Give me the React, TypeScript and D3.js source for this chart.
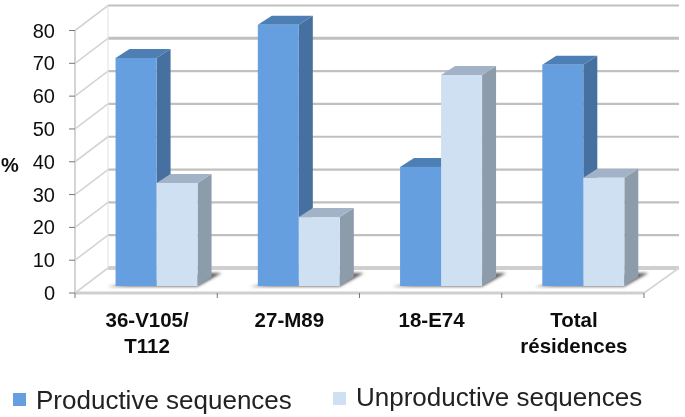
import React from 'react';
import * as d3 from 'd3';

const categories = ['36-V105/|T112', '27-M89', '18-E74', 'Total|résidences'];
const productive = [69.5, 79.6, 36.3, 67.4];
const unproductive = [31.4, 21, 64.3, 33];
const seriesNames = ['Productive sequences', 'Unproductive sequences'];
const yTicks = [0, 10, 20, 30, 40, 50, 60, 70, 80];

const width = 685;
const height = 417;
const font = '"Liberation Sans", Arial, sans-serif';

// 3D box offsets
const wallX = 33;
const wallY = 25;
const barShift = 7 / 25; // bars stand a bit behind the front edge
const barNudge = 1.2;
const barDX = 14;
const barDY = 9;

const x = d3.scaleBand().domain(categories).range([75, 644]);
const inner = d3.scaleBand().domain(['a', 'b']).range([0, 82]);
const y = d3.scaleLinear().domain([0, 80]).range([293, 30.5]);

const colors = [
  { front: '#659fdf', side: '#44709f', top: '#4d7fb4' },
  { front: '#cfe0f2', side: '#8d9cab', top: '#a3b3c7' },
];

const pts = (p: number[][]) => p.map(d => d.join(',')).join(' ');

export default function App() {
  const left = x.range()[0];
  const right = x.range()[1];
  const y0 = y(0);

  const groupX = (cat: string) => x(cat)! + (x.bandwidth() - 82) / 2 + wallX * barShift + barNudge;

  const bar = (cat: string, value: number, s: number) => {
    const bw = inner.bandwidth();
    const x0 = groupX(cat) + inner(s === 0 ? 'a' : 'b')!;
    const base = y(0) - wallY * barShift;
    const top = y(value) - wallY * barShift;
    const c = colors[s];
    return (
      <g key={cat + s}>
        <polygon points={pts([[x0 + bw, top], [x0 + bw + barDX, top - barDY], [x0 + bw + barDX, base - barDY], [x0 + bw, base]])} fill={c.side} />
        <polygon points={pts([[x0, top], [x0 + barDX, top - barDY], [x0 + bw + barDX, top - barDY], [x0 + bw, top]])} fill={c.top} />
        <rect x={x0} y={top} width={bw} height={base - top} fill={c.front} />
      </g>
    );
  };

  return (
    <svg width={width} height={height} style={{ position: 'absolute', left: 0, top: 0, background: '#fff' }}>
      <defs>
        <filter id="soft" x="-5%" y="-5%" width="110%" height="110%">
          <feGaussianBlur stdDeviation="0.7" />
        </filter>
        <filter id="shadow" x="-20%" y="-50%" width="140%" height="200%">
          <feGaussianBlur stdDeviation="1.5" />
        </filter>
      </defs>

      <g filter="url(#soft)">
        {/* gridlines on the side and back walls */}
        {yTicks.map(t => (
          <g key={t} stroke={t === 0 ? '#cfcfcf' : '#c0c0c0'} fill="none">
            <line x1={left} x2={left + wallX} y1={y(t)} y2={y(t) - wallY} strokeWidth={1.6} stroke="#d4d4d4" />
            <line x1={left + wallX} x2={right + wallX + 2} y1={y(t) - wallY} y2={y(t) - wallY} strokeWidth={t === 0 ? 4 : t === 80 ? 2 : t === 70 ? 3 : 2.2} />
          </g>
        ))}
        <line x1={left} x2={left} y1={y(80)} y2={y0} stroke="#d4d4d4" strokeWidth={2} />
        <line x1={left + wallX} x2={left + wallX} y1={y(80) - wallY} y2={y0 - wallY} stroke="#e2e2e2" strokeWidth={1} />
        {/* floor */}
        <line x1={left} x2={right} y1={y0} y2={y0} stroke="#cfcfcf" strokeWidth={3} />
        <line x1={right} x2={right + wallX + 2} y1={y0} y2={y0 - wallY} stroke="#d4d4d4" strokeWidth={1.6} />

        {/* axis ticks */}
        {yTicks.map(t => (
          <line key={t} x1={left - 6} x2={left} y1={y(t)} y2={y(t)} stroke="#777" strokeWidth={1} />
        ))}
        {[...categories.map(c => x(c)!), right].map(v => (
          <line key={v} x1={v} x2={v} y1={y0} y2={y0 + 5} stroke="#777" strokeWidth={1} />
        ))}

        {/* floor shadows */}
        {categories.map(c => {
          const x0 = groupX(c);
          const base = y0 - wallY * barShift;
          return (
            <polygon
              key={c}
              filter="url(#shadow)"
              fill="#5e5e5e"
              points={pts([[x0 - 8, base + 0.5], [x0 + 82, base + 0.5], [x0 + 82 + 24, base - 13], [x0 + 82 + 8, base - 13]])}
            />
          );
        })}

        {categories.map((c, i) => (
          <g key={c}>
            {bar(c, productive[i], 0)}
            {bar(c, unproductive[i], 1)}
          </g>
        ))}

        {/* y labels */}
        {yTicks.map(t => (
          <text key={t} x={55} y={y(t) + 7} textAnchor="end" fontFamily={font} fontSize={20} fill="#111">
            {t}
          </text>
        ))}
        <text x={1} y={172} fontFamily={font} fontSize={20} fontWeight="bold" fill="#111">%</text>

        {/* category labels */}
        {categories.map(c => {
          const cx = x(c)! + x.bandwidth() / 2 + 1;
          return c.split('|').map((line, i) => (
            <text key={line} x={cx} y={327 + i * 26} textAnchor="middle" fontFamily={font} fontSize={20.5} fontWeight="bold" fill="#111">
              {line}
            </text>
          ));
        })}

        {/* legend */}
        <rect x={13} y={393} width={13} height={13} fill={colors[0].front} />
        <text x={36} y={409} fontFamily={font} fontSize={26} fill="#222">{seriesNames[0]}</text>
        <rect x={333} y={392} width={13} height={13} fill={colors[1].front} />
        <text x={356} y={406} fontFamily={font} fontSize={26} fill="#222">{seriesNames[1]}</text>
      </g>
    </svg>
  );
}
